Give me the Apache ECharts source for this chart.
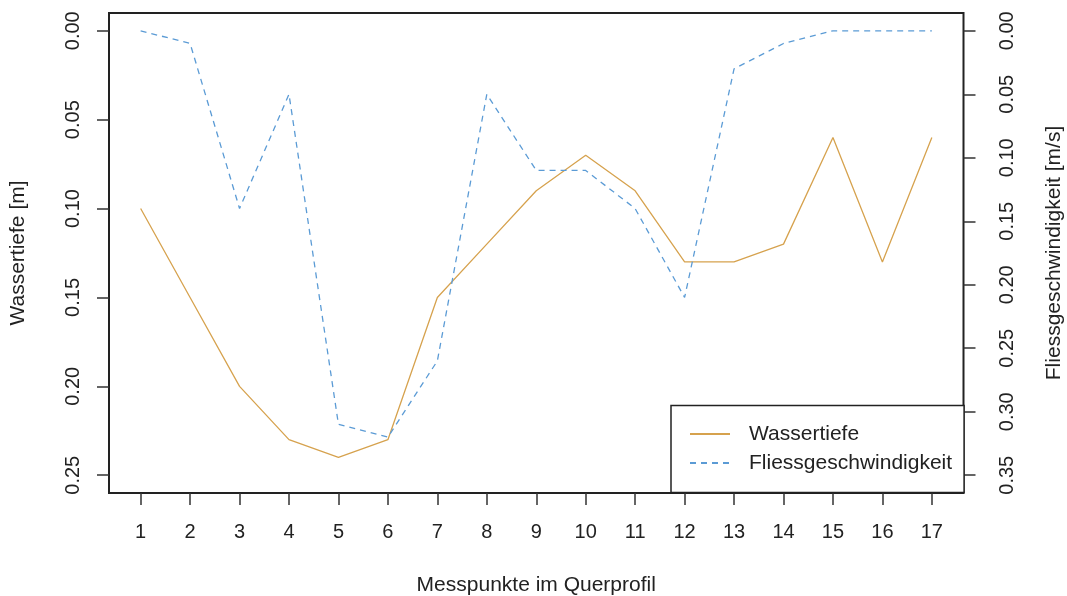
<!DOCTYPE html>
<html>
<head>
<meta charset="utf-8">
<script src="https://cdn.jsdelivr.net/npm/echarts@6/dist/echarts.min.js"></script>
<style>
  html, body { margin: 0; padding: 0; background: #fff; }
  #chart { width: 1067px; height: 596px; }
</style>
</head>
<body>
<div id="chart"></div>
<script>
// Data
const messpunkte = [1, 2, 3, 4, 5, 6, 7, 8, 9, 10, 11, 12, 13, 14, 15, 16, 17];
const wassertiefe = [0.10, 0.15, 0.20, 0.23, 0.24, 0.23, 0.15, 0.12, 0.09, 0.07, 0.09, 0.13, 0.13, 0.12, 0.06, 0.13, 0.06];
const fliessgeschwindigkeit = [0.00, 0.01, 0.14, 0.05, 0.31, 0.32, 0.26, 0.05, 0.11, 0.11, 0.14, 0.21, 0.03, 0.01, 0.00, 0.00, 0.00];
const leftTicks = [0.00, 0.05, 0.10, 0.15, 0.20, 0.25];
const rightTicks = [0.00, 0.05, 0.10, 0.15, 0.20, 0.25, 0.30, 0.35];

const FONT = '"Liberation Sans", Arial, sans-serif';
const txt = '#222';
const chart = echarts.init(document.getElementById('chart'), null, { renderer: 'canvas' });

const fmt = v => Number(v).toFixed(2);

chart.setOption({
  animation: false,
  backgroundColor: '#fff',
  grid: {
    left: 109, right: 103.5, top: 13, bottom: 103,
    outerBoundsMode: 'none', containLabel: false,
    show: true, borderColor: '#222', borderWidth: 2, backgroundColor: 'transparent'
  },
  legend: {
    left: 671, top: 405.5,
    orient: 'vertical',
    padding: [18, 12, 19, 18],
    itemGap: 8,
    itemWidth: 40, itemHeight: 14,
    backgroundColor: '#fff',
    borderColor: '#222', borderWidth: 1.5,
    itemStyle: { opacity: 0 },
    textStyle: { fontFamily: FONT, fontSize: 21, color: txt, padding: [0, 0, 0, 14] },
    data: ['Wassertiefe', 'Fliessgeschwindigkeit']
  },
  xAxis: {
    type: 'value',
    min: 0.36, max: 17.64,
    name: 'Messpunkte im Querprofil',
    nameLocation: 'middle', nameGap: 82,
    nameTextStyle: { fontFamily: FONT, fontSize: 21, color: txt },
    axisLine: { show: false, onZero: false },
    splitLine: { show: false },
    axisTick: { show: true, length: 12, inside: false, customValues: messpunkte, lineStyle: { color: '#333', width: 1.5 } },
    axisLabel: { customValues: messpunkte, margin: 29, fontFamily: FONT, fontSize: 20, color: txt }
  },
  yAxis: [
    {
      type: 'value', position: 'left', inverse: true,
      min: -0.01, max: 0.26,
      name: 'Wassertiefe [m]', nameLocation: 'middle', nameGap: 80, nameRotate: 90,
      nameTextStyle: { fontFamily: FONT, fontSize: 21, color: txt },
      axisLine: { show: false, onZero: false }, splitLine: { show: false },
      axisTick: { show: true, length: 12, customValues: leftTicks, lineStyle: { color: '#333', width: 1.5 } },
      axisLabel: { customValues: leftTicks, rotate: 90, margin: 26, fontFamily: FONT, fontSize: 20, color: txt, formatter: fmt }
    },
    {
      type: 'value', position: 'right', inverse: true,
      min: -0.014, max: 0.364,
      name: 'Fliessgeschwindigkeit [m/s]', nameLocation: 'middle', nameGap: 80, nameRotate: 90,
      nameTextStyle: { fontFamily: FONT, fontSize: 21, color: txt },
      axisLine: { show: false, onZero: false }, splitLine: { show: false },
      axisTick: { show: true, length: 12, customValues: rightTicks, lineStyle: { color: '#333', width: 1.5 } },
      axisLabel: { customValues: rightTicks, rotate: 90, margin: 33.5, fontFamily: FONT, fontSize: 20, color: txt, formatter: fmt }
    }
  ],
  series: [
    {
      name: 'Wassertiefe', type: 'line', yAxisIndex: 0,
      data: messpunkte.map((x, i) => [x, wassertiefe[i]]),
      showSymbol: false, symbol: 'none',
      lineStyle: { color: '#d6a24e', width: 1.3, type: 'solid' },
      itemStyle: { color: '#d6a24e' }
    },
    {
      name: 'Fliessgeschwindigkeit', type: 'line', yAxisIndex: 1,
      data: messpunkte.map((x, i) => [x, fliessgeschwindigkeit[i]]),
      showSymbol: false, symbol: 'none',
      lineStyle: { color: '#5b9bd5', width: 1.3, type: [6, 5] },
      itemStyle: { color: '#5b9bd5' }
    }
  ]
});
</script>
</body>
</html>
